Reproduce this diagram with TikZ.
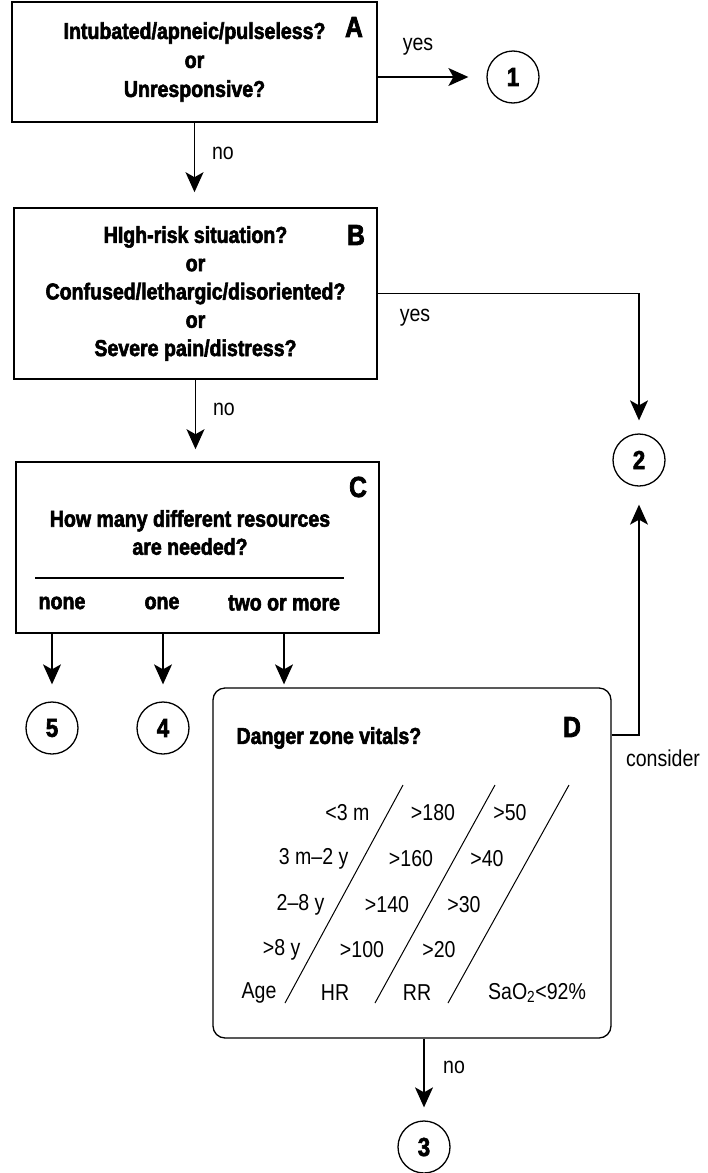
\documentclass[tikz,border=0pt]{standalone}
\usepackage{fontspec}
\setmainfont{Liberation Sans}[FakeStretch=0.85,BoldFeatures={FakeBold=2.5}]
\usetikzlibrary{arrows.meta}

\begin{document}
\begin{tikzpicture}[x=1pt,y=-1pt,
	qbox/.style={draw,line width=1.6pt,align=center,inner sep=0pt},
	endpt/.style={draw,circle,line width=1.3pt,minimum size=52pt,inner sep=0pt,font=\fontsize{26}{26}\selectfont\bfseries},
	flow/.style={line width=1.2pt,-{Stealth[length=20pt,width=18pt,inset=5pt]}},
	tag/.style={font=\fontsize{29}{29}\selectfont\bfseries},
	ans/.style={font=\fontsize{23}{23}\selectfont},
	ques/.style={font=\fontsize{23}{28}\selectfont\bfseries,align=center}]
		\useasboundingbox (0,0) rectangle (708,1173);
		
		% question boxes
		\node[qbox,minimum width=365pt,minimum height=120pt,font=\fontsize{23}{29}\selectfont\bfseries] (qa) at (194.5,62) {Intubated/apneic/pulseless?\\or\\Unresponsive?};
		\node[qbox,minimum width=363pt,minimum height=171pt,font=\fontsize{23}{28.3}\selectfont\bfseries] (qb) at (195.5,293.5) {HIgh-risk situation?\\or\\Confused/lethargic/disoriented?\\or\\Severe pain/distress?};
		\node[qbox,minimum width=363pt,minimum height=171pt] (qc) at (197.5,547.5) {};
		\node[qbox,rounded corners=12pt,line width=1.3pt,minimum width=398pt,minimum height=350pt] (qd) at (412,863) {};
		
		% labels
		\node[tag] (ta) at (354,27) {A};
		\node[tag] (tb) at (356,235) {B};
		\node[tag] (tc) at (358,487) {C};
		\node[tag] (td) at (572,727) {D};
		
		% box C
		\node[ques] (qctext) at (190,532.5) {How many different resources\\are needed?};
		\draw[line width=1.2pt] (35,578) -- (344,578);
		\node[ques] (none) at (62,603) {none};
		\node[ques] (one) at (162,603) {one};
		\node[ques] (more) at (284,603) {two or more};
		
		% box D
		\node[ques,anchor=west] (qdtext) at (233,738) {Danger zone vitals?};
		\draw[line width=1pt] (403,785) -- (285,1003);
		\draw[line width=1pt] (495,785) -- (375,1003);
		\draw[line width=1pt] (569,785) -- (448,1003);
		
		\node[ans,anchor=east] (age1) at (373,813) {<3 m};
		\node[ans,anchor=east] (age2) at (352,859) {3 m--2 y};
		\node[ans,anchor=east] (age3) at (328,905) {2--8 y};
		\node[ans,anchor=east] (age4) at (304,950) {>8 y};
		\node[ans,anchor=east] (age) at (280,993) {Age};
		
		\node[ans] (hr1) at (433,813) {>180};
		\node[ans] (hr2) at (411,859) {>160};
		\node[ans] (hr3) at (387,905) {>140};
		\node[ans] (hr4) at (362,950) {>100};
		\node[ans] (hr) at (335,993) {HR};
		
		\node[ans] (rr1) at (510,813) {>50};
		\node[ans] (rr2) at (487,859) {>40};
		\node[ans] (rr3) at (464,905) {>30};
		\node[ans] (rr4) at (439,950) {>20};
		\node[ans] (rr) at (417,993) {RR};
		
		\node[ans] (sao) at (537,993) {SaO\textsubscript{2}<92\%};
		
		% end points
		\node[endpt] (c1) at (513,77) {1};
		\node[endpt] (c2) at (639,460) {2};
		\node[endpt] (c3) at (424,1147) {3};
		\node[endpt] (c4) at (163,728) {4};
		\node[endpt] (c5) at (52,728) {5};
		
		% connectors
		\draw[flow,shorten >=18pt] (qa.east |- c1) -- (c1.west);
		\node[ans] (yesa) at (418,47) {yes};
		\draw[flow,shorten >=15pt] (qa.south) -- (qa.south |- qb.north);
		\node[ans] (noa) at (223,153) {no};
		
		\draw[flow,shorten >=13pt] (qb.east) -| (c2.north);
		\node[ans] (yesb) at (415,318) {yes};
		\draw[flow,shorten >=12pt] (qb.south) -- (qb.south |- qc.north);
		\node[ans] (nob) at (224,409) {no};
		
		\draw[flow,shorten >=17pt] (c5 |- qc.south) -- (c5.north);
		\draw[flow,shorten >=17pt] (c4 |- qc.south) -- (c4.north);
		\draw[flow,shorten >=3pt] (more |- qc.south) -- (more |- qd.north);
		
		\draw[flow,shorten >=18pt] ([yshift=128pt]qd.east) -| (c2.south);
		\node[ans] (cons) at (663,758) {consider};
		\draw[flow,shorten >=13pt] (qd.south -| c3) -- (c3.north);
		\node[ans] (nod) at (454,1067) {no};
\end{tikzpicture}
\end{document}
